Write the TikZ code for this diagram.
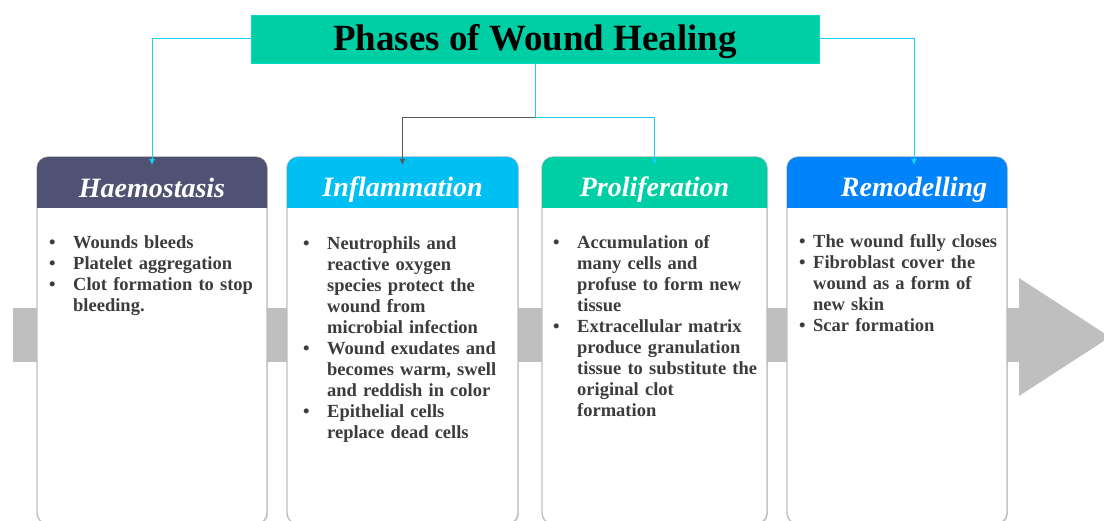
\documentclass[tikz,border=0pt]{standalone}
\usepackage{fontspec}
\setmainfont{Liberation Serif}
\usetikzlibrary{arrows.meta,positioning,shadows}
\definecolor{titlegreen}{RGB}{0,207,165}
\definecolor{haemslate}{RGB}{80,82,115}
\definecolor{inflcyan}{RGB}{0,191,243}
\definecolor{prolgreen}{RGB}{0,207,165}
\definecolor{remodblue}{RGB}{0,131,251}
\definecolor{linkcyan}{RGB}{25,205,245}
\definecolor{flowgray}{RGB}{191,191,191}
\definecolor{bodygray}{RGB}{60,60,60}

% bullet list with the bullet flush left
\newenvironment{pointlist}[1]{%
  \begin{list}{\textbullet}{\setlength\leftmargin{#1}\setlength\labelwidth{#1}%
    \setlength\labelsep{0pt}\setlength\itemsep{0pt}\setlength\topsep{0pt}%
    \setlength\parsep{0pt}\setlength\partopsep{0pt}%
    \renewcommand\makelabel[1]{##1\hfil}}}
  {\end{list}}

\begin{document}
\begin{tikzpicture}[
  x=1pt, y=-1pt,
  titlebox/.style={fill=titlegreen, draw=titlegreen!70!cyan, line width=.6pt,
                   minimum width=568, minimum height=48, text height=27pt, text depth=3pt,
                   font=\fontsize{37}{40}\selectfont\bfseries},
  card/.style={draw=gray!50, line width=1.4pt, fill=white, rounded corners=11pt,
               minimum height=367, anchor=north west, outer sep=0pt,
               drop shadow={shadow xshift=.8pt, shadow yshift=-1pt, opacity=.35}},
  headtext/.style={text=white, font=\fontsize{28}{30}\selectfont\bfseries\itshape},
  bodytext/.style={text=bodygray, anchor=north west, inner sep=0pt, align=left,
                   font=\fontsize{18.5}{21}\selectfont\bfseries},
  link/.style={linkcyan, line width=1pt, -{Latex[length=6pt,width=6pt]}},
  darklink/.style={black!65, line width=1pt, -{Latex[length=6pt,width=6pt]}}
]
\useasboundingbox (0,0) rectangle (1104,521);

% flow arrow behind the cards
\fill[flowgray] (13,308) rectangle (1020,362);
\fill[flowgray] (1019,278) -- (1110,337) -- (1019,396) -- cycle;

\node[titlebox] (title) at (535,39) {Phases of Wound Healing};

% phase cards
\node[card, minimum width=230] (haem) at (37,157) {};
\node[card, minimum width=231, right=20pt of haem.north east, anchor=north west] (infl) {};
\node[card, minimum width=225, right=24pt of infl.north east, anchor=north west] (prol) {};
\node[card, minimum width=220, right=20pt of prol.north east, anchor=north west] (remod) {};

% coloured card headers, rounded on top only
\fill[haemslate] ([yshift=-51]haem.north west) [rounded corners=11pt] -- (haem.north west)
  -- (haem.north east) [sharp corners] -- ([yshift=-51]haem.north east) -- cycle;
\fill[inflcyan] ([yshift=-51]infl.north west) [rounded corners=11pt] -- (infl.north west)
  -- (infl.north east) [sharp corners] -- ([yshift=-51]infl.north east) -- cycle;
\fill[prolgreen] ([yshift=-51]prol.north west) [rounded corners=11pt] -- (prol.north west)
  -- (prol.north east) [sharp corners] -- ([yshift=-51]prol.north east) -- cycle;
\fill[remodblue] ([yshift=-51]remod.north west) [rounded corners=11pt] -- (remod.north west)
  -- (remod.north east) [sharp corners] -- ([yshift=-51]remod.north east) -- cycle;

\node[headtext] (haemHead) at ([yshift=-31]haem.north) {Haemostasis};
\node[headtext] (inflHead) at ([yshift=-33]infl.north) {Inflammation};
\node[headtext] (prolHead) at ([yshift=-33]prol.north) {Proliferation};
\node[headtext] (remodHead) at ([xshift=17,yshift=-33]remod.north) {Remodelling};

% card contents
\node[bodytext, text width=214] (haemText) at ([xshift=12,yshift=-70]haem.north west)
  {\begin{pointlist}{24pt}
   \item Wounds bleeds
   \item Platelet aggregation
   \item Clot formation to stop\\ bleeding.
   \end{pointlist}};
\node[bodytext, text width=212] (inflText) at ([xshift=16,yshift=-71]infl.north west)
  {\begin{pointlist}{24pt}
   \item Neutrophils and\\ reactive oxygen\\ species protect the\\ wound from\\ microbial infection
   \item Wound exudates and\\ becomes warm, swell\\ and reddish in color
   \item Epithelial cells\\ replace dead cells
   \end{pointlist}};
\node[bodytext, text width=212] (prolText) at ([xshift=11,yshift=-70]prol.north west)
  {\begin{pointlist}{24pt}
   \item Accumulation of\\ many cells and\\ profuse to form new\\ tissue
   \item Extracellular matrix\\ produce granulation\\ tissue to substitute the\\ original clot\\ formation
   \end{pointlist}};
\node[bodytext, text width=206] (remodText) at ([xshift=12,yshift=-69]remod.north west)
  {\begin{pointlist}{14pt}
   \item The wound fully closes
   \item Fibroblast cover the\\ wound as a form of\\ new skin
   \item Scar formation
   \end{pointlist}};

% connectors from the title
\coordinate (fork) at ([yshift=-54]title.south);
\draw[link] (title.west) -| ([yshift=-8]haem.north);
\draw[link] (title.east) -| ([xshift=17,yshift=-8]remod.north);
\draw[link, -] (title.south) -- (fork);
\draw[darklink] (fork) -| ([yshift=-8]infl.north);
\draw[link] (fork) -| ([yshift=-8]prol.north);
\end{tikzpicture}
\end{document}
